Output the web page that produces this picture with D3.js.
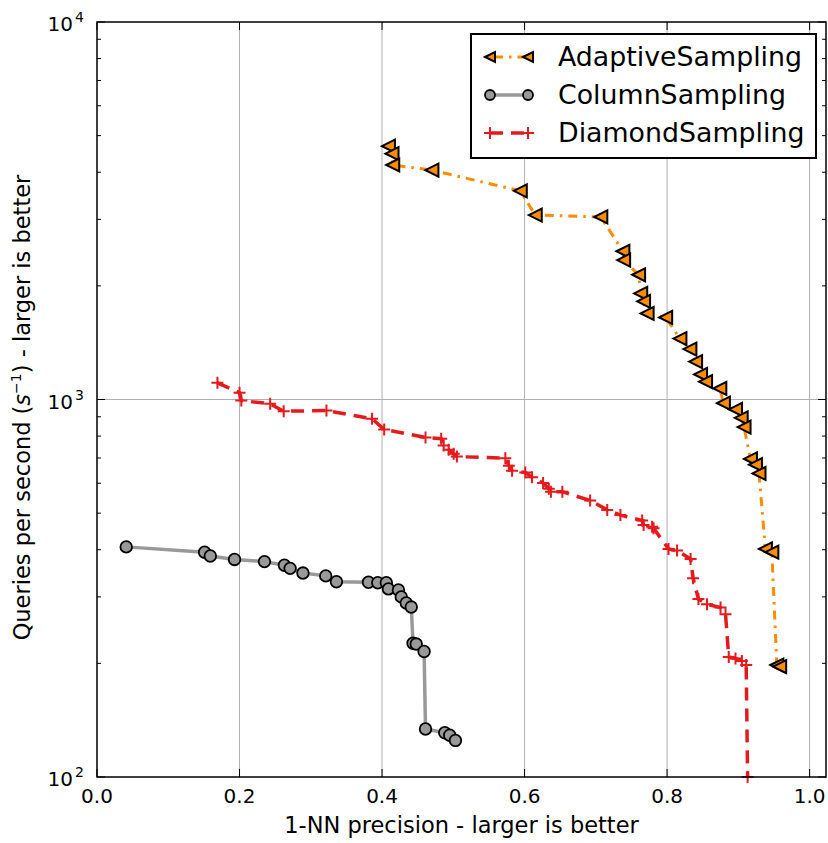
<!DOCTYPE html>
<html>
<head>
<meta charset="utf-8">
<title>precision vs queries per second</title>
<style>
  body { margin: 0; background: #fff; }
  text { font-family: "DejaVu Sans", sans-serif; fill: #000; }
</style>
</head>
<body>
<div id="chart"></div>
<script src="https://cdn.jsdelivr.net/npm/d3@7"></script>
<script>
// values
var adaptiveX = [0.409, 0.414, 0.415, 0.470, 0.594, 0.615, 0.707, 0.738, 0.739, 0.760, 0.763, 0.767, 0.772, 0.798, 0.818, 0.832,
                 0.840, 0.847, 0.854, 0.874, 0.879, 0.896, 0.904, 0.908, 0.917, 0.924, 0.929, 0.938, 0.947, 0.954, 0.958];
var adaptiveY = [4690, 4480, 4180, 4050, 3570, 3080, 3045, 2470, 2340, 2140, 1910, 1820, 1690, 1650, 1450, 1360,
                 1260, 1165, 1115, 1070, 978, 941, 894, 845, 696, 672, 637, 402, 394, 198, 196];

var columnX = [0.041, 0.151, 0.159, 0.193, 0.235, 0.263, 0.271, 0.289, 0.321, 0.336, 0.381, 0.394, 0.406,
               0.409, 0.423, 0.427, 0.434, 0.441, 0.4435, 0.448, 0.459, 0.461, 0.488, 0.495, 0.503];
var columnY = [407, 394, 385, 377, 372, 364, 357, 347, 341, 329, 328, 327, 327,
               315, 313, 300, 289, 282, 226, 225, 215, 134, 131, 129, 125];

var diamondX = [0.169, 0.200, 0.2025, 0.243, 0.262, 0.322, 0.386, 0.403, 0.461, 0.483, 0.4865, 0.4935, 0.5005, 0.505,
                0.573, 0.578, 0.5825, 0.601, 0.6105, 0.626, 0.634, 0.637, 0.653, 0.692, 0.716, 0.7345, 0.765, 0.767,
                0.779, 0.781, 0.802, 0.814, 0.833, 0.8365, 0.844, 0.856, 0.875, 0.882, 0.8865, 0.896, 0.905, 0.911, 0.913];
var diamondY = [1107, 1042, 994, 974, 931, 935, 889, 833, 793, 787, 755, 736, 718, 706,
                699, 668, 648, 641, 622, 601, 580, 570, 570, 540, 510, 494, 478, 465,
                460, 456, 402, 398, 378, 336, 296, 287, 281, 270, 208, 206, 203, 198, 100];

var seriesNames = ["AdaptiveSampling", "ColumnSampling", "DiamondSampling"];
var xTicks = [0.0, 0.2, 0.4, 0.6, 0.8, 1.0];
var xTickLabels = ["0.0", "0.2", "0.4", "0.6", "0.8", "1.0"];
var yTicks = [100, 1000, 10000];
var yTickExps = ["2", "3", "4"];

var W = 828, H = 843;
var padL = 97, padR = 826, padT = 22, padB = 777;

var svg = d3.select("#chart").append("svg").attr("width", W).attr("height", H);

var x = d3.scaleLinear().domain([0, 1.023]).range([padL, padR]);
var y = d3.scaleLog().domain([100, 10000]).range([padB, padT]);

var minorY = [];
[100, 1000].forEach(function(b) { for (var k = 2; k <= 9; k++) minorY.push(b * k); });

// grid
svg.append("g").selectAll("line").data(xTicks.slice(1)).enter().append("line")
   .attr("x1", function(d) { return x(d); }).attr("x2", function(d) { return x(d); })
   .attr("y1", padT).attr("y2", padB)
   .attr("stroke", "#b0b0b0").attr("stroke-width", 1);
svg.append("line").attr("x1", padL).attr("x2", padR).attr("y1", y(1000)).attr("y2", y(1000))
   .attr("stroke", "#b0b0b0").attr("stroke-width", 1);

// series
var line = d3.line().x(function(d) { return x(d[0]); }).y(function(d) { return y(d[1]); });
function zip(a, b) { return a.map(function(v, i) { return [v, b[i]]; }); }

var adaptive = zip(adaptiveX, adaptiveY);
var column = zip(columnX, columnY);
var diamond = zip(diamondX, diamondY);

var orange = "#ff8c00", grey = "#999999", red = "#e41a1c";

var triPath = function(s) { return "M" + (-s) + ",0L" + s + "," + (-s) + "L" + s + "," + s + "Z"; };
var plusPath = function(s) { return "M" + (-s) + ",0H" + s + "M0," + (-s) + "V" + s; };

function drawAdaptive(g, pts, s) {
  g.append("path").datum(pts).attr("d", line).attr("fill", "none")
   .attr("stroke", orange).attr("stroke-width", 3).attr("stroke-dasharray", "9,6,2.5,6");
  g.selectAll("path.m").data(pts).enter().append("path").attr("class", "m")
   .attr("transform", function(d) { return "translate(" + x(d[0]) + "," + y(d[1]) + ")"; })
   .attr("d", triPath(s)).attr("fill", orange).attr("stroke", "#000").attr("stroke-width", 2);
}
function drawColumn(g, pts, r) {
  g.append("path").datum(pts).attr("d", line).attr("fill", "none")
   .attr("stroke", grey).attr("stroke-width", 3.5);
  g.selectAll("circle").data(pts).enter().append("circle")
   .attr("cx", function(d) { return x(d[0]); }).attr("cy", function(d) { return y(d[1]); })
   .attr("r", r).attr("fill", grey).attr("stroke", "#000").attr("stroke-width", 1.8);
}
function drawDiamond(g, pts, s) {
  g.append("path").datum(pts).attr("d", line).attr("fill", "none")
   .attr("stroke", red).attr("stroke-width", 3.5).attr("stroke-dasharray", "13,8");
  g.selectAll("path.m").data(pts).enter().append("path").attr("class", "m")
   .attr("transform", function(d) { return "translate(" + x(d[0]) + "," + y(d[1]) + ")"; })
   .attr("d", plusPath(s)).attr("fill", "none").attr("stroke", red).attr("stroke-width", 2);
}

drawAdaptive(svg.append("g"), adaptive, 6.5);
drawColumn(svg.append("g"), column, 5.8);
drawDiamond(svg.append("g"), diamond, 6);

// frame and ticks
var axes = svg.append("g");
axes.append("rect").attr("x", padL).attr("y", padT).attr("width", padR - padL).attr("height", padB - padT)
    .attr("fill", "none").attr("stroke", "#000").attr("stroke-width", 1.5);

xTicks.forEach(function(t) {
  axes.append("line").attr("x1", x(t)).attr("x2", x(t)).attr("y1", padB).attr("y2", padB - 8).attr("stroke", "#000");
  axes.append("line").attr("x1", x(t)).attr("x2", x(t)).attr("y1", padT).attr("y2", padT + 8).attr("stroke", "#000");
});
yTicks.forEach(function(t) {
  axes.append("line").attr("x1", padL).attr("x2", padL + 8).attr("y1", y(t)).attr("y2", y(t)).attr("stroke", "#000");
  axes.append("line").attr("x1", padR).attr("x2", padR - 8).attr("y1", y(t)).attr("y2", y(t)).attr("stroke", "#000");
});
minorY.forEach(function(t) {
  axes.append("line").attr("x1", padL).attr("x2", padL + 4).attr("y1", y(t)).attr("y2", y(t)).attr("stroke", "#000");
  axes.append("line").attr("x1", padR).attr("x2", padR - 4).attr("y1", y(t)).attr("y2", y(t)).attr("stroke", "#000");
});

// tick labels
svg.append("g").selectAll("text").data(xTicks).enter().append("text")
   .attr("x", function(d) { return x(d); }).attr("y", padB + 26)
   .attr("text-anchor", "middle").attr("font-size", 20)
   .text(function(d, i) { return xTickLabels[i]; });

yTicks.forEach(function(t, i) {
  svg.append("text").attr("x", 73).attr("y", y(t) + 9).attr("text-anchor", "end")
     .attr("font-size", 20).text("10");
  svg.append("text").attr("x", 75).attr("y", y(t)).attr("font-size", 14).text(yTickExps[i]);
});

// axis labels
svg.append("text").attr("x", (padL + padR) / 2).attr("y", 833).attr("text-anchor", "middle")
   .attr("font-size", 22.5).text("1-NN precision - larger is better");

var yl = svg.append("text").attr("transform", "translate(30," + ((padT + padB) / 2 + 8) + ") rotate(-90)")
   .attr("text-anchor", "middle").attr("font-size", 22.5);
yl.append("tspan").text("Queries per second (");
yl.append("tspan").attr("font-style", "italic").text("s");
yl.append("tspan").attr("font-size", 14).attr("dy", -9).text("\u22121");
yl.append("tspan").attr("dy", 9).text(") - larger is better");

// legend
var lg = svg.append("g");
lg.append("rect").attr("x", 471).attr("y", 34).attr("width", 345).attr("height", 124)
  .attr("fill", "#fff").attr("stroke", "#000").attr("stroke-width", 2);
var rowY = [57, 95, 133];
var lx0 = 490, lx1 = 528;

var la = lg.append("g");
la.append("line").attr("x1", lx0).attr("x2", lx1).attr("y1", rowY[0]).attr("y2", rowY[0])
  .attr("stroke", orange).attr("stroke-width", 3).attr("stroke-dasharray", "9,6,2.5,6").attr("stroke-dashoffset", -4);
[lx0, lx1].forEach(function(px) {
  la.append("path").attr("transform", "translate(" + px + "," + rowY[0] + ")").attr("d", triPath(5))
    .attr("fill", orange).attr("stroke", "#000").attr("stroke-width", 2);
});
var lc = lg.append("g");
lc.append("line").attr("x1", lx0).attr("x2", lx1).attr("y1", rowY[1]).attr("y2", rowY[1])
  .attr("stroke", grey).attr("stroke-width", 3.5);
[lx0, lx1].forEach(function(px) {
  lc.append("circle").attr("cx", px).attr("cy", rowY[1]).attr("r", 5)
    .attr("fill", grey).attr("stroke", "#000").attr("stroke-width", 1.8);
});
var ld = lg.append("g");
ld.append("line").attr("x1", lx0).attr("x2", lx1).attr("y1", rowY[2]).attr("y2", rowY[2])
  .attr("stroke", red).attr("stroke-width", 3.5).attr("stroke-dasharray", "13,8");
[lx0, lx1].forEach(function(px) {
  ld.append("path").attr("transform", "translate(" + px + "," + rowY[2] + ")").attr("d", plusPath(6))
    .attr("fill", "none").attr("stroke", red).attr("stroke-width", 2);
});
lg.selectAll("text.lab").data(seriesNames).enter().append("text").attr("class", "lab")
  .attr("x", 558).attr("y", function(d, i) { return rowY[i] + 9; })
  .attr("font-size", 26.8).text(function(d) { return d; });
</script>
</body>
</html>
